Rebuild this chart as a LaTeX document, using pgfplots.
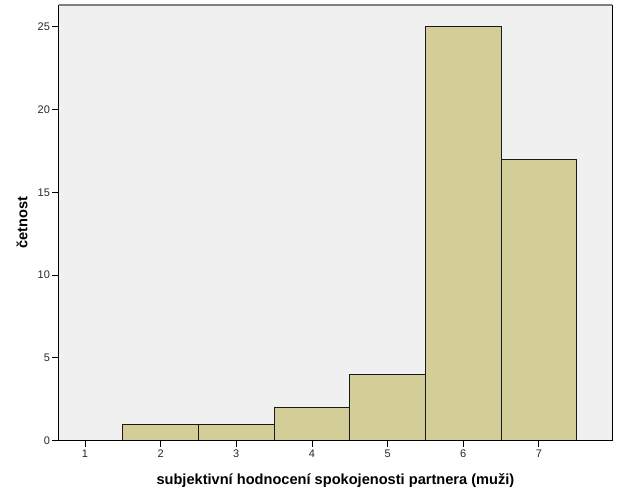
\documentclass[border=0pt]{standalone}
\usepackage{fontspec}
\setmainfont{Liberation Sans}
\usepackage{pgfplots}
\pgfplotsset{compat=1.18}
\definecolor{bgc}{HTML}{F0F0F0}
\definecolor{barc}{HTML}{D3CE97}
\definecolor{topc}{HTML}{808080}
\begin{document}
\begin{tikzpicture}[x=1pt,y=1pt]
\begin{axis}[
  at={(58.5pt,60.3pt)}, anchor=south west,
  scale only axis, width=553.8pt, height=435.7pt,
  xmin=0.65, xmax=7.97, ymin=0, ymax=26.31,
  axis background/.style={fill=bgc},
  axis line style={draw=none},
  xtick={1,...,7}, ytick={0,5,10,15,20,25},
  tick align=outside, major tick length=6.5pt,
  xtick pos=bottom, ytick pos=left,
  tick style={black, line width=0.9pt},
  /pgf/number format/assume math mode=true,
  ticklabel style={font=\fontsize{11}{13}\selectfont, text=black!85},
  yticklabel style={xshift=1.5pt},
  xticklabel style={yshift=1pt},
  xlabel={subjektivní hodnocení spokojenosti partnera (muži)},
  ylabel={četnost},
  label style={font=\fontsize{14.6}{17}\selectfont\bfseries},
  xlabel style={at={(axis description cs:0.5,0)}, anchor=center, yshift=-39.5pt},
  ylabel style={at={(axis description cs:0,0.5)}, anchor=center, yshift=36.5pt},
  clip=false,
]
\addplot[ybar interval, fill=barc, draw=black!90, line width=0.9pt]
  coordinates {(1.5,1) (2.5,1) (3.5,2) (4.5,4) (5.5,25) (6.5,17) (7.5,17)};
\draw[topc, line width=1.6pt] (rel axis cs:0,1) -- (rel axis cs:1,1);
\draw[black, line width=1pt] (rel axis cs:1,0) -- (rel axis cs:1,1);
\draw[black, line width=1pt] (rel axis cs:0,0) -- (rel axis cs:0,1);
\draw[black, line width=1pt] (rel axis cs:0,0) -- (rel axis cs:1,0);
\end{axis}
\pgfresetboundingbox
\path (0,0) rectangle (626pt,501pt);
\end{tikzpicture}
\end{document}
